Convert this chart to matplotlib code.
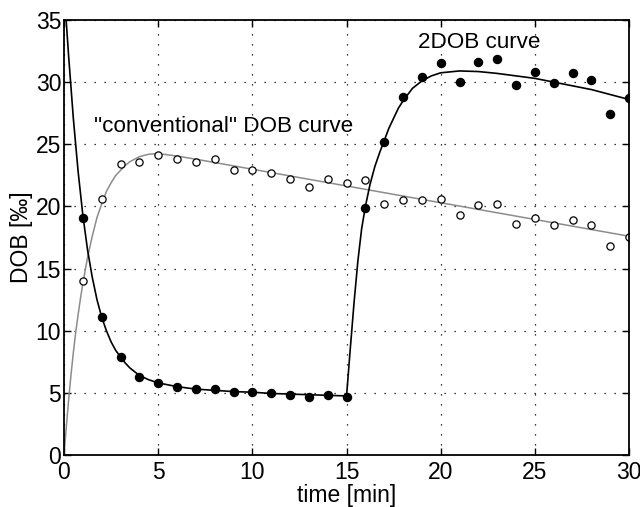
import matplotlib
matplotlib.use('Agg')
import matplotlib.pyplot as plt

plt.rcParams['font.family'] = ['Liberation Sans', 'DejaVu Sans']

# measured points
t = list(range(1, 31))
dob2 = [19.1, 11.1, 7.9, 6.3, 5.8, 5.5, 5.3, 5.3, 5.1, 5.1,
        5.0, 4.8, 4.7, 4.8, 4.7, 19.9, 25.2, 28.8, 30.4, 31.5,
        30.0, 31.6, 31.9, 29.8, 30.8, 29.9, 30.7, 30.2, 27.4, 28.7]
conv = [14.0, 20.6, 23.4, 23.6, 24.1, 23.8, 23.6, 23.8, 22.9, 22.9,
        22.7, 22.2, 21.6, 22.2, 21.9, 22.1, 20.2, 20.5, 20.5, 20.6,
        19.3, 20.1, 20.2, 18.6, 19.1, 18.5, 18.9, 18.5, 16.8, 17.5]

# fitted curves
fit2_t = [0.0, 0.25, 0.5, 0.75, 1.0, 1.25, 1.5, 1.75, 2.0, 2.25, 2.5, 2.75,
          3.0, 3.25, 3.5, 3.75, 4.0, 4.5, 5.0, 6.0, 7.0, 8.0, 9.0, 10.0,
          11.0, 12.0, 13.0, 14.0, 15.0, 15.2, 15.4, 15.6, 15.8, 16.0,
          16.25, 16.5, 16.75, 17.0, 17.25, 17.5, 17.75, 18.0, 18.5, 19.0,
          19.5, 20.0, 21.0, 22.0, 23.0, 24.0, 25.0, 26.0, 27.0, 28.0,
          29.0, 30.0]
fit2_y = [37.5, 32.0, 27.0, 22.8, 19.3, 16.5, 14.3, 12.5, 11.1, 10.0, 9.1, 8.4,
          7.9, 7.4, 7.0, 6.7, 6.4, 6.05, 5.8, 5.5, 5.3, 5.2, 5.1, 5.05,
          4.95, 4.9, 4.85, 4.8, 4.75, 8.6, 12.3, 15.6, 18.2, 20.0,
          21.8, 23.2, 24.3, 25.3, 26.3, 27.1, 27.9, 28.5, 29.5, 30.1,
          30.5, 30.75, 30.9, 30.85, 30.7, 30.5, 30.3, 30.0, 29.7, 29.4,
          29.0, 28.6]
fitc_t = [0.0, 0.125, 0.25, 0.375, 0.5, 0.625, 0.75, 0.875, 1.0, 1.25, 1.5,
          1.75, 2.0, 2.25, 2.5, 2.75, 3.0, 3.25, 3.5, 3.75, 4.0, 4.5, 5.0,
          5.5, 6.0, 7.0, 30.0]
fitc_y = [0.0, 2.3, 4.5, 6.5, 8.3, 9.9, 11.3, 12.6, 13.8, 15.9, 17.6,
          19.1, 20.2, 21.2, 21.9, 22.5, 22.9, 23.3, 23.6, 23.8, 24.0, 24.2, 24.25,
          24.15, 24.05, 23.8, 17.6]

fig = plt.figure(figsize=(6.4, 5.07), dpi=100)
ax = fig.add_axes([0.1, 0.1026, 0.883, 0.858])

ax.plot(fitc_t, fitc_y, color='#8c8c8c', lw=1.1)
ax.plot(fit2_t, fit2_y, color='black', lw=1.2)
ax.plot(t, conv, 'o', mfc='white', mec='black', mew=0.9, ms=5.2)
ax.plot(t, dob2, 'o', color='black', ms=5.8)

ax.text(1.6, 26.4, '"conventional" DOB curve', fontsize=16.2, va='center')
ax.text(18.8, 33.2, '2DOB curve', fontsize=16.2, va='center')

ax.set_xlim(0, 30)
ax.set_ylim(0, 35)
ax.set_xticks(range(0, 31, 5))
ax.set_yticks(range(0, 36, 5))
ax.grid(True, color='black', linestyle=(0, (1, 7)), lw=0.9)
ax.tick_params(direction='in', top=True, right=True, labelsize=16.5,
               length=5, width=1, pad=4)
ax.tick_params(axis='y', pad=2)
for s in ax.spines.values():
    s.set_linewidth(1.3)
ax.set_xlabel('time [min]', fontsize=16.5, labelpad=0)
ax.set_ylabel('DOB [‰]', fontsize=16.5, labelpad=2)

fig.savefig('out.png', dpi=100)
